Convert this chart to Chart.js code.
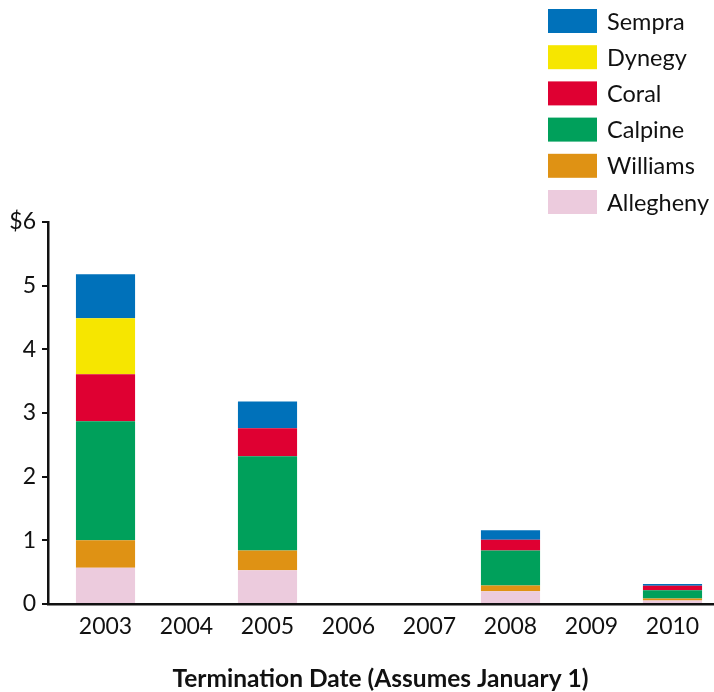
<!DOCTYPE html>
<html>
<head>
<meta charset="utf-8">
<script src="https://cdn.jsdelivr.net/npm/chart.js@4.4.0/dist/chart.umd.min.js"></script>
<style>
  html, body { margin: 0; padding: 0; background: #fff; }
  #wrap { position: relative; width: 714px; height: 692px; }
</style>
</head>
<body>
<div id="wrap"><canvas id="chart"></canvas></div>
<script>
// termination year of each contract
const years = [2003, 2004, 2005, 2006, 2007, 2008, 2009, 2010];

// $ billions per supplier, stacked bottom -> top
const allegheny = [0.57, null, 0.53, null, null, 0.20, null, 0.055];
const williams  = [0.43, null, 0.31, null, null, 0.09, null, 0.03];
const calpine   = [1.87, null, 1.48, null, null, 0.55, null, 0.13];
const coral     = [0.74, null, 0.44, null, null, 0.17, null, 0.07];
const dynegy    = [0.88, null, null, null, null, null, null, null];
const sempra    = [0.69, null, 0.42, null, null, 0.15, null, 0.03];

const yTicks = [0, 1, 2, 3, 4, 5, 6];

const FONT = 'Lato, "Open Sans", sans-serif';

// legend drawn as a column in the top right, Sempra first
const columnLegend = {
    id: 'columnLegend',
    afterDraw(chart) {
        const ctx = chart.ctx;
        const sets = chart.data.datasets.slice().reverse();
        ctx.save();
        ctx.font = '23.5px ' + FONT;
        ctx.textBaseline = 'middle';
        ctx.textAlign = 'left';
        sets.forEach((ds, i) => {
            const y = 9 + i * 36.2;
            ctx.fillStyle = ds.backgroundColor;
            ctx.fillRect(548, y, 49, 24);
            ctx.fillStyle = '#111';
            ctx.fillText(ds.label, 607, y + 13);
        });
        ctx.restore();
    }
};

const mk = (label, data, color) => ({
    label: label,
    data: data,
    backgroundColor: color,
    borderWidth: 0,
    grouped: false,
    barPercentage: 0.73,
    categoryPercentage: 1
});

new Chart(document.getElementById('chart'), {
    type: 'bar',
    data: {
        labels: years,
        datasets: [
            mk('Allegheny', allegheny, '#ECCBDD'),
            mk('Williams', williams, '#DF9214'),
            mk('Calpine', calpine, '#00A05B'),
            mk('Coral', coral, '#DF0032'),
            mk('Dynegy', dynegy, '#F6E600'),
            mk('Sempra', sempra, '#0071BA')
        ]
    },
    options: {
        responsive: true,
        maintainAspectRatio: false,
        animation: false,
        layout: { padding: { top: 222, right: 1, left: 0, bottom: 0 } },
        plugins: {
            legend: { display: false },
            tooltip: { enabled: false }
        },
        scales: {
            x: {
                type: 'linear',
                offset: false,
                min: 2002.29,
                max: 2010.5,
                afterFit: (s) => { s.height = 88; },
                ticks: {
                    stepSize: 1,
                    includeBounds: false,
                    padding: 9,
                    color: '#111',
                    font: { family: FONT, size: 23 },
                    callback: (v) => String(v)
                },
                grid: { display: true, offset: false, drawOnChartArea: false, drawTicks: false },
                border: { display: true, color: '#111', width: 2.5 },
                title: {
                    display: true,
                    text: 'Termination Date (Assumes January 1)',
                    color: '#111',
                    font: { family: FONT, size: 24.5, weight: 'bold', lineHeight: 1 },
                    padding: { top: 0, bottom: 1 }
                }
            },
            y: {
                stacked: true,
                min: 0,
                max: 6,
                afterFit: (s) => { s.width = 48; },
                afterBuildTicks: (s) => { s.ticks = yTicks.map(v => ({ value: v })); },
                ticks: {
                    padding: 6,
                    color: '#111',
                    font: { family: FONT, size: 23 },
                    callback: (v) => v === 6 ? '$6' : String(v)
                },
                grid: { drawOnChartArea: false, drawTicks: true, tickLength: 6, color: '#111', lineWidth: 2 },
                border: { display: true, color: '#111', width: 2.5 }
            }
        }
    },
    plugins: [columnLegend]
});
</script>
</body>
</html>
